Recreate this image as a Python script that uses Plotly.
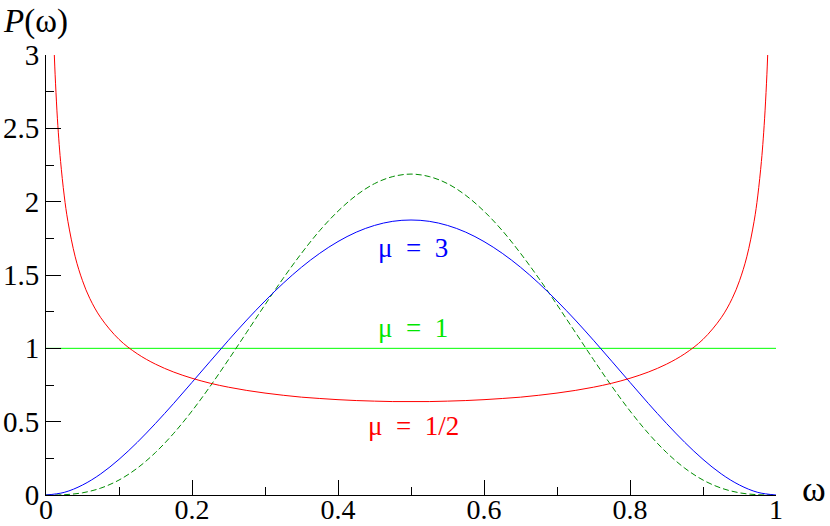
import plotly.graph_objects as go

# sample positions read along the omega axis
omega = [0, 0.025, 0.05, 0.075, 0.1, 0.125, 0.15, 0.175, 0.2, 0.225, 0.25,
         0.275, 0.3, 0.325, 0.35, 0.375, 0.4, 0.425, 0.45, 0.475, 0.5,
         0.525, 0.55, 0.575, 0.6, 0.625, 0.65, 0.675, 0.7, 0.725, 0.75,
         0.775, 0.8, 0.825, 0.85, 0.875, 0.9, 0.925, 0.95, 0.975, 1]

# mu = 3 (blue)
p_mu3 = [0, 0.018, 0.068, 0.144, 0.243, 0.359, 0.488, 0.625, 0.768, 0.912, 1.055,
         1.193, 1.323, 1.444, 1.553, 1.648, 1.728, 1.792, 1.838, 1.866, 1.875,
         1.866, 1.838, 1.792, 1.728, 1.648, 1.553, 1.444, 1.323, 1.193, 1.055,
         0.912, 0.768, 0.625, 0.488, 0.359, 0.243, 0.144, 0.068, 0.018, 0]

# dashed green curve
p_dashed = [0, 0.002, 0.015, 0.047, 0.102, 0.183, 0.290, 0.421, 0.573, 0.742, 0.923,
            1.110, 1.297, 1.478, 1.648, 1.803, 1.935, 2.043, 2.123, 2.171, 2.188,
            2.171, 2.123, 2.043, 1.935, 1.803, 1.648, 1.478, 1.297, 1.110, 0.923,
            0.742, 0.573, 0.421, 0.290, 0.183, 0.102, 0.047, 0.015, 0.002, 0]

# mu = 1 (flat green)
omega_flat = [0, 1]
p_mu1 = [1, 1]

# mu = 1/2 (red), denser near the edges
omega_half = [0.0114, 0.0125, 0.015, 0.0175, 0.02, 0.025, 0.03, 0.04, 0.05, 0.06,
              0.075, 0.1, 0.125, 0.15, 0.175, 0.2, 0.225, 0.25, 0.275, 0.3, 0.325,
              0.35, 0.375, 0.4, 0.425, 0.45, 0.475, 0.5, 0.525, 0.55, 0.575, 0.6,
              0.625, 0.65, 0.675, 0.7, 0.725, 0.75, 0.775, 0.8, 0.825, 0.85, 0.875,
              0.9, 0.925, 0.94, 0.95, 0.96, 0.97, 0.975, 0.98, 0.9825, 0.985,
              0.9875, 0.9886]
p_half = [3.0, 2.865, 2.619, 2.428, 2.274, 2.039, 1.866, 1.624, 1.461, 1.340,
          1.209, 1.061, 0.963, 0.892, 0.838, 0.796, 0.762, 0.735, 0.713, 0.695, 0.680,
          0.667, 0.658, 0.650, 0.644, 0.640, 0.637, 0.637, 0.637, 0.640, 0.644, 0.650,
          0.658, 0.667, 0.680, 0.695, 0.713, 0.735, 0.762, 0.796, 0.838, 0.892, 0.963,
          1.061, 1.209, 1.340, 1.461, 1.624, 1.866, 2.039, 2.274, 2.428, 2.619,
          2.865, 3.0]

FONT = "Liberation Serif"
SP = "\u2002"  # en space, the reference spaces out the "=" widely

fig = go.Figure()
fig.add_trace(go.Scatter(x=omega_flat, y=p_mu1, mode="lines",
                         line=dict(color="#00ff00", width=1)))
fig.add_trace(go.Scatter(x=omega, y=p_dashed, mode="lines",
                         line=dict(color="rgb(0,140,0)", width=1, dash="6px,3px", shape="spline")))
fig.add_trace(go.Scatter(x=omega, y=p_mu3, mode="lines",
                         line=dict(color="#0000ff", width=1, shape="spline")))
fig.add_trace(go.Scatter(x=omega_half, y=p_half, mode="lines",
                         line=dict(color="#ff0000", width=1, shape="spline")))

axis_style = dict(
    showgrid=False, zeroline=False, showline=True, linecolor="black", linewidth=1,
    ticks="inside", ticklen=15, tickwidth=1, tickcolor="black", automargin=False,
)
fig.update_xaxes(range=[0, 1], dtick=0.2, tick0=0, ticklabelstandoff=-11,
                 tickfont=dict(family=FONT, size=28, color="black"),
                 minor=dict(ticks="inside", ticklen=8, dtick=0.1, tickcolor="black"),
                 **axis_style)
fig.update_yaxes(range=[0, 3], dtick=0.5, tick0=0,
                 tickfont=dict(family=FONT, size=29, color="black"),
                 minor=dict(ticks="inside", ticklen=8, dtick=0.25, tickcolor="black"),
                 **axis_style)

labels = [
    dict(x=0.503, y=1.684, text=f"μ{SP}={SP}3", color="#0000ff"),
    dict(x=0.503, y=1.138, text=f"μ{SP}={SP}1", color="#00e600"),
    dict(x=0.503, y=0.47, text=f"μ{SP}={SP}1/2", color="#ff0000"),
]
for lab in labels:
    fig.add_annotation(x=lab["x"], y=lab["y"], text=lab["text"], showarrow=False,
                       font=dict(family=FONT, size=27, color=lab["color"]))

fig.add_annotation(xref="paper", yref="paper", x=0, y=1, xanchor="left", yanchor="middle",
                   xshift=-45, yshift=34, text="<i>P</i>(ω)", showarrow=False,
                   font=dict(family=FONT, size=33, color="black"))
fig.add_annotation(xref="paper", yref="paper", x=1, y=0, xanchor="center", yanchor="middle",
                   xshift=38, yshift=6, text="ω", showarrow=False,
                   font=dict(family=FONT, size=36, color="black"))

fig.update_layout(
    width=830, height=526, showlegend=False,
    plot_bgcolor="white", paper_bgcolor="white",
    font=dict(family=FONT),
    margin=dict(l=46, r=54, t=55, b=31),
)
# drop the default 8px page margin so the figure sits at the window corner
fig.write_html("out.html", config={"displayModeBar": False},
               post_script="document.body.style.margin = '0';")
